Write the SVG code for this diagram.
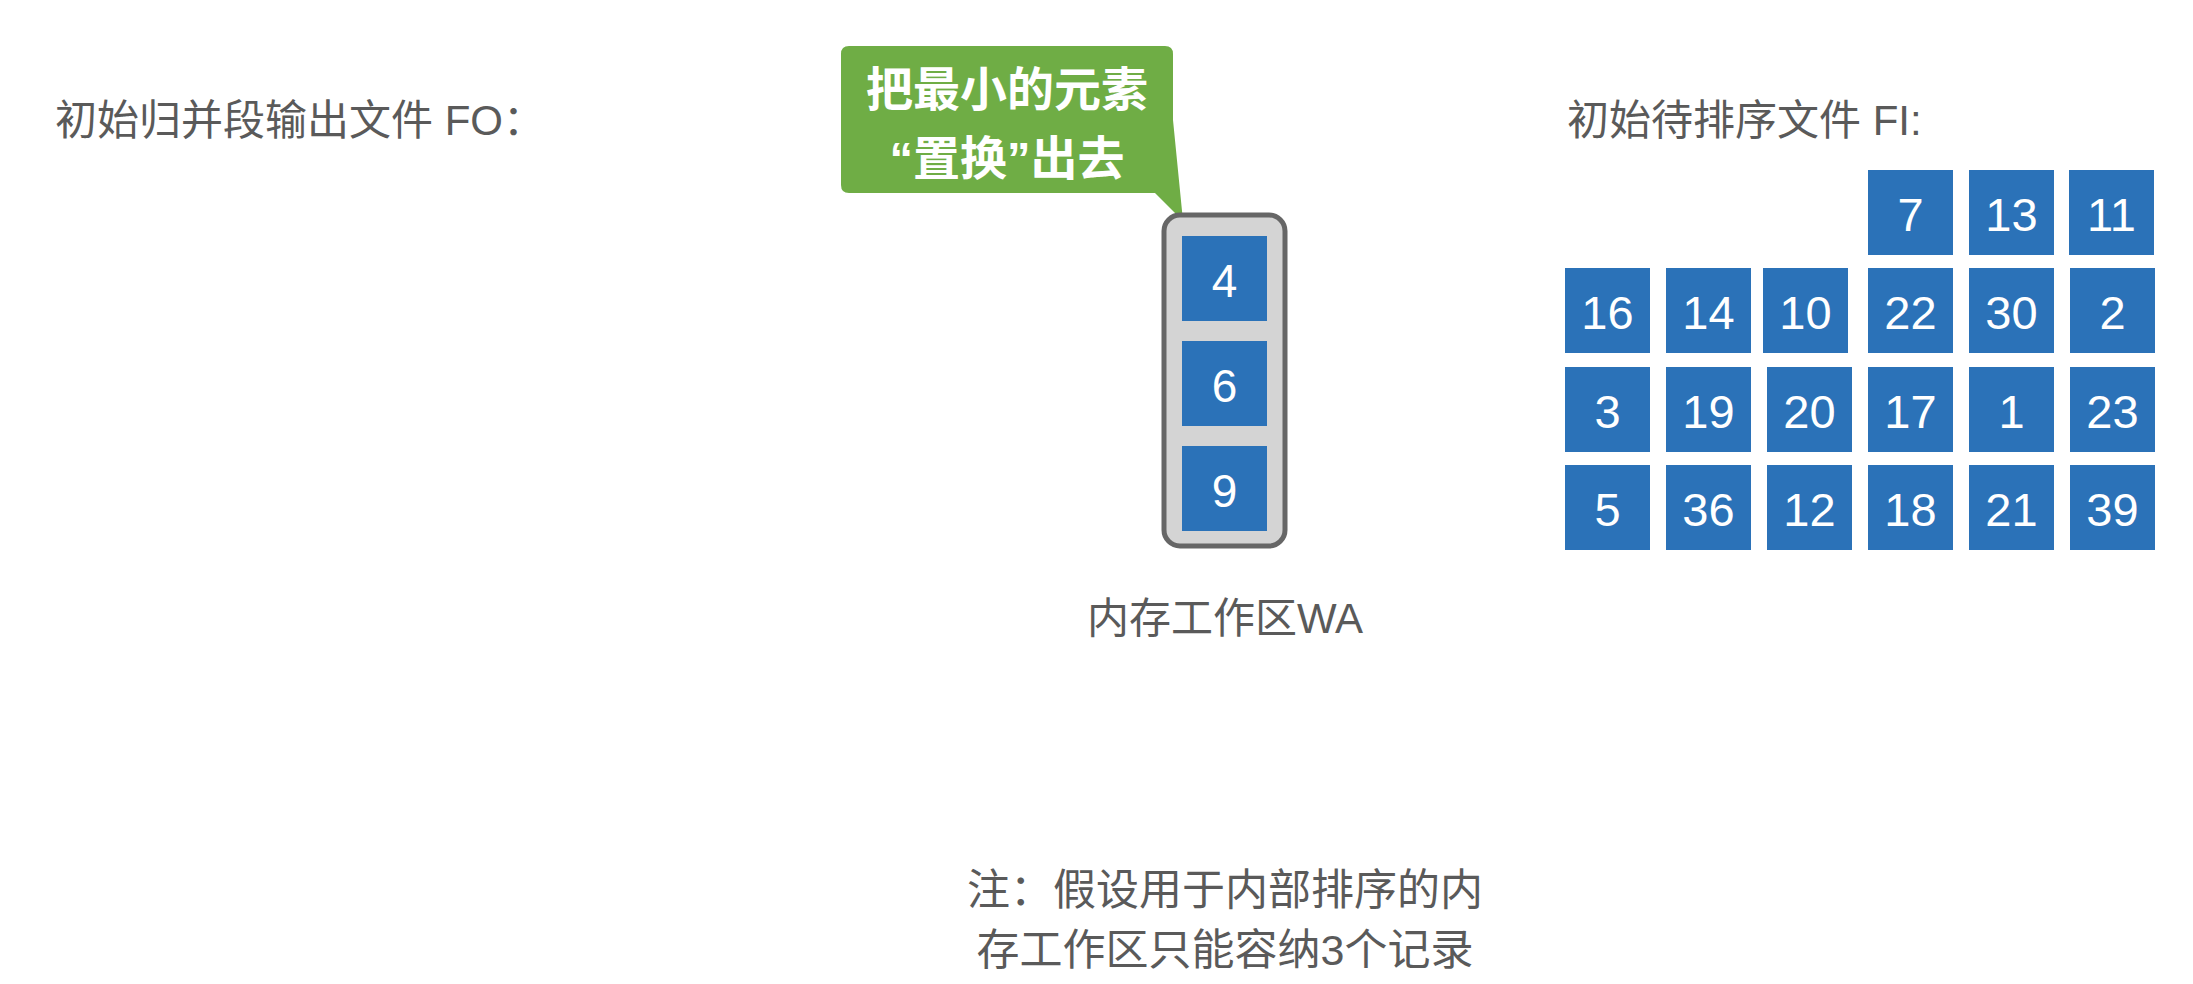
<svg xmlns="http://www.w3.org/2000/svg" width="2193" height="984" viewBox="0 0 2193 984">
<style>
.lbl{font-family:"Liberation Sans","Noto Sans CJK SC",sans-serif;font-size:42px;fill:#5a5a5a}
.cell{fill:#2b72b8}
.num{font-family:"Liberation Sans",Arial,sans-serif;font-size:47px;fill:#ffffff;text-anchor:middle}
.call{font-family:"Liberation Sans","Noto Sans CJK SC",sans-serif;font-size:47px;font-weight:bold;fill:#ffffff;text-anchor:middle}
</style>
<rect width="2193" height="984" fill="#ffffff"/>
<g id="fo-label"><text class="lbl" x="55" y="135">初始归并段输出文件 FO：</text></g>
<g id="fi-label"><text class="lbl" x="1567" y="135">初始待排序文件 FI:</text></g>
<g id="callout">
<path d="M849,46 H1165 Q1173,46 1173,54 V120 L1183,221 L1155,193 H849 Q841,193 841,185 V54 Q841,46 849,46 Z" fill="#6fad45"/>
<text class="call" x="1007" y="106">把最小的元素</text>
<text class="call" x="1007" y="175">“置换”出去</text>
</g>
<g id="wa">
<rect x="1164" y="215" width="121" height="331" rx="16" fill="#d4d4d4" stroke="#666666" stroke-width="5"/>
<rect class="cell" x="1182" y="236" width="85" height="85"/>
<text class="num" x="1224.5" y="297" style="font-size:46px">4</text>
<rect class="cell" x="1182" y="341" width="85" height="85"/>
<text class="num" x="1224.5" y="402" style="font-size:46px">6</text>
<rect class="cell" x="1182" y="446" width="85" height="85"/>
<text class="num" x="1224.5" y="507" style="font-size:46px">9</text>
</g>
<g id="wa-label"><text class="lbl" x="1225" y="633" style="font-size:42px" text-anchor="middle">内存工作区WA</text></g>
<g id="fi-grid">
<rect class="cell" x="1868" y="170" width="85" height="85"/><text class="num" x="1910.5" y="231">7</text>
<rect class="cell" x="1969" y="170" width="85" height="85"/><text class="num" x="2011.5" y="231">13</text>
<rect class="cell" x="2069" y="170" width="85" height="85"/><text class="num" x="2111.5" y="231">11</text>

<rect class="cell" x="1565" y="268" width="85" height="85"/><text class="num" x="1607.5" y="329">16</text>
<rect class="cell" x="1666" y="268" width="85" height="85"/><text class="num" x="1708.5" y="329">14</text>
<rect class="cell" x="1763" y="268" width="85" height="85"/><text class="num" x="1805.5" y="329">10</text>
<rect class="cell" x="1868" y="268" width="85" height="85"/><text class="num" x="1910.5" y="329">22</text>
<rect class="cell" x="1969" y="268" width="85" height="85"/><text class="num" x="2011.5" y="329">30</text>
<rect class="cell" x="2070" y="268" width="85" height="85"/><text class="num" x="2112.5" y="329">2</text>

<rect class="cell" x="1565" y="367" width="85" height="85"/><text class="num" x="1607.5" y="428">3</text>
<rect class="cell" x="1666" y="367" width="85" height="85"/><text class="num" x="1708.5" y="428">19</text>
<rect class="cell" x="1767" y="367" width="85" height="85"/><text class="num" x="1809.5" y="428">20</text>
<rect class="cell" x="1868" y="367" width="85" height="85"/><text class="num" x="1910.5" y="428">17</text>
<rect class="cell" x="1969" y="367" width="85" height="85"/><text class="num" x="2011.5" y="428">1</text>
<rect class="cell" x="2070" y="367" width="85" height="85"/><text class="num" x="2112.5" y="428">23</text>

<rect class="cell" x="1565" y="465" width="85" height="85"/><text class="num" x="1607.5" y="526">5</text>
<rect class="cell" x="1666" y="465" width="85" height="85"/><text class="num" x="1708.5" y="526">36</text>
<rect class="cell" x="1767" y="465" width="85" height="85"/><text class="num" x="1809.5" y="526">12</text>
<rect class="cell" x="1868" y="465" width="85" height="85"/><text class="num" x="1910.5" y="526">18</text>
<rect class="cell" x="1969" y="465" width="85" height="85"/><text class="num" x="2011.5" y="526">21</text>
<rect class="cell" x="2070" y="465" width="85" height="85"/><text class="num" x="2112.5" y="526">39</text>
</g>
<g id="note">
<text class="lbl" x="1225" y="905" style="font-size:43px" text-anchor="middle">注：假设用于内部排序的内</text>
<text class="lbl" x="1225" y="965" style="font-size:43px" text-anchor="middle">存工作区只能容纳3个记录</text>
</g>
<g id="connectors"></g>
</svg>
